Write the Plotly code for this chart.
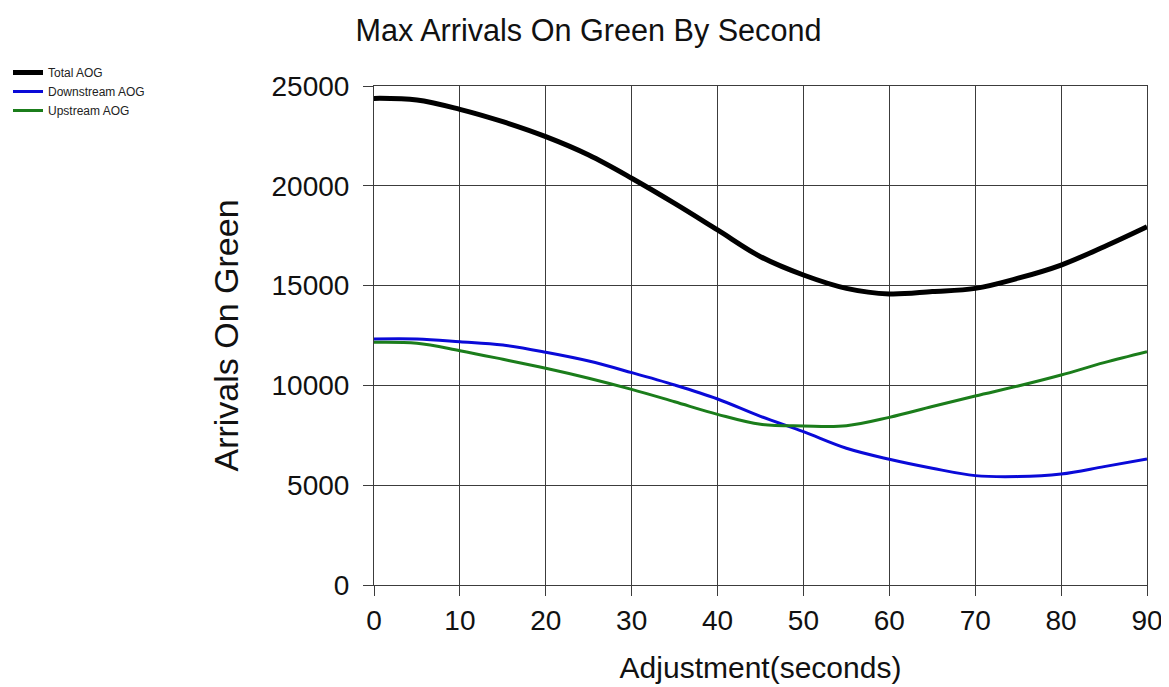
import plotly.graph_objects as go

# adjustment in seconds
seconds = [0, 5, 10, 15, 20, 25, 30, 35, 40, 45, 50, 55, 60, 65, 70, 75, 80, 85, 90]

total_aog = [24380, 24300, 23830, 23210, 22460, 21540, 20380, 19120, 17790, 16450,
	15530, 14860, 14580, 14700, 14860, 15370, 16030, 16950, 17950]
downstream_aog = [12330, 12330, 12190, 12020, 11660, 11220, 10640, 10020, 9320, 8450,
	7680, 6850, 6300, 5850, 5480, 5430, 5560, 5930, 6310]
upstream_aog = [12160, 12110, 11740, 11310, 10860, 10360, 9800, 9180, 8550, 8050,
	7970, 7980, 8400, 8940, 9470, 9970, 10520, 11140, 11690]

series_names = ["Total AOG", "Downstream AOG", "Upstream AOG"]

FONT = "Liberation Sans, Arial, sans-serif"

# page body has an 8px margin, so the figure is drawn 8px smaller
W, H = 1161, 679

fig = go.Figure()
fig.add_trace(go.Scatter(x = seconds, y = total_aog, name = series_names[0],
	mode = "lines", line = dict(color = "#000000", width = 5, shape = "spline")))
fig.add_trace(go.Scatter(x = seconds, y = downstream_aog, name = series_names[1],
	mode = "lines", line = dict(color = "#0a0ad8", width = 3, shape = "spline")))
fig.add_trace(go.Scatter(x = seconds, y = upstream_aog, name = series_names[2],
	mode = "lines", line = dict(color = "#1b7d1b", width = 3, shape = "spline")))

axis_style = dict(
	showgrid = True, gridcolor = "#3c3c3c", gridwidth = 1,
	showline = True, linecolor = "#3c3c3c", linewidth = 1, mirror = True,
	ticks = "outside", ticklen = 10, tickcolor = "#3c3c3c",
	tickfont = dict(family = FONT, size = 28, color = "#111111"),
	zeroline = False, automargin = False)

fig.update_xaxes(axis_style, range = [0, 90], dtick = 10, ticklabelstandoff = 0,
	title = dict(text = "Adjustment(seconds)", standoff = 22,
		font = dict(family = FONT, size = 30, color = "#111111")))
fig.update_yaxes(axis_style, range = [0, 25000], dtick = 5000, tickformat = "d",
	ticklabelstandoff = 8,
	title = dict(text = "Arrivals On Green", standoff = 22,
		font = dict(family = FONT, size = 34, color = "#111111")))

fig.update_layout(
	width = W, height = H,
	margin = dict(l = 366, r = 22, t = 78, b = 102, autoexpand = False),
	paper_bgcolor = "white", plot_bgcolor = "white",
	title = dict(text = "Max Arrivals On Green By Second", x = 0.5, xanchor = "center",
		y = 1 - 22 / H, yanchor = "middle",
		font = dict(family = FONT, size = 30.6, color = "#111111")),
	legend = dict(xref = "container", yref = "container", x = 0, y = 1 - 50 / H,
		xanchor = "left", yanchor = "top", tracegroupgap = 0,
		font = dict(family = FONT, size = 12, color = "#222222"),
		bgcolor = "rgba(0,0,0,0)"),
	showlegend = True)

fig.write_html("out.html")
